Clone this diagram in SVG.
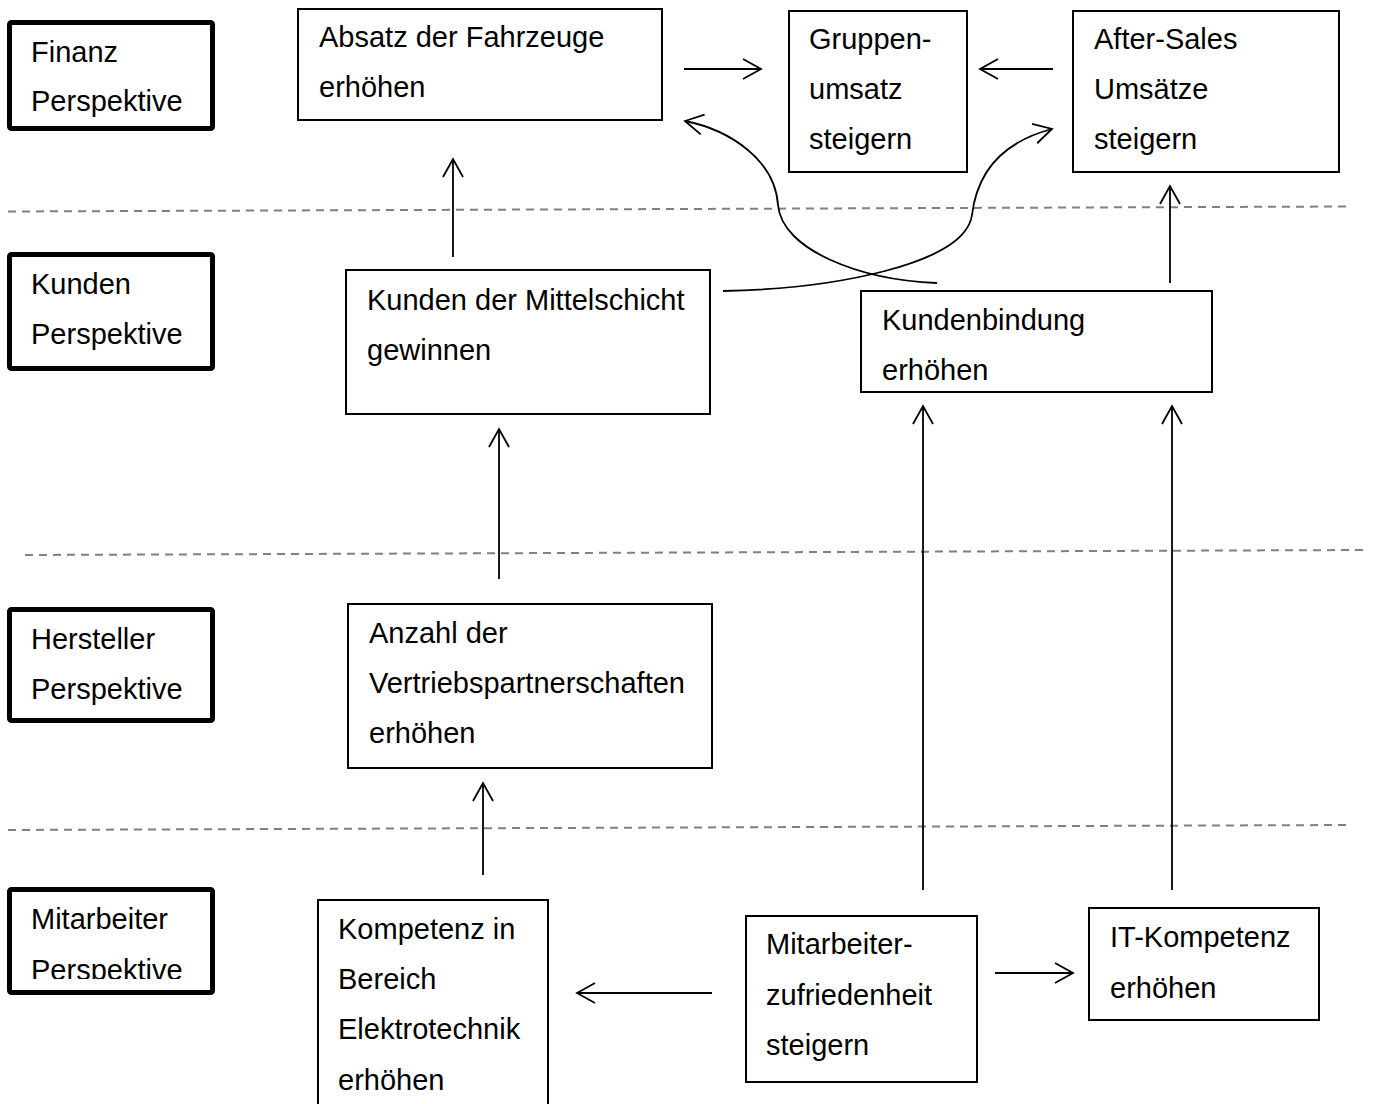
<svg xmlns="http://www.w3.org/2000/svg" width="1374" height="1104" viewBox="0 0 1374 1104">
<style>
  text { font-family: "Liberation Sans", Arial, sans-serif; font-size: 29px; fill: #000; }
  .node { fill: #fff; stroke: #000; stroke-width: 2; }
  .persp { fill: #fff; stroke: #000; stroke-width: 5; }
  .sep { stroke: #808080; stroke-width: 2; stroke-dasharray: 8 6; fill: none; }
  .conn { stroke: #000; stroke-width: 1.8; fill: none; marker-end: url(#arr); }
</style>
<defs>
  <marker id="arr" markerUnits="userSpaceOnUse" viewBox="-20 -12 22 24" markerWidth="22" markerHeight="24" refX="0" refY="0" orient="auto">
    <path d="M-18,-10 L0,0 L-18,10" fill="none" stroke="#000" stroke-width="1.8"/>
  </marker>
  <clipPath id="clipM"><rect x="0" y="880" width="300" height="99"/></clipPath>
</defs>
<rect width="1374" height="1104" fill="#fff"/>

<g id="separators">
  <line class="sep" x1="8" y1="211.5" x2="1348" y2="206.5"/>
  <line class="sep" x1="25" y1="555" x2="1365" y2="550"/>
  <line class="sep" x1="8" y1="830" x2="1348" y2="825"/>
</g>

<g id="persp-finanz">
  <rect class="persp" x="9.5" y="22.5" width="203" height="106" rx="2"/>
  <text x="31" y="62">Finanz</text>
  <text x="31" y="111">Perspektive</text>
</g>
<g id="persp-kunden">
  <rect class="persp" x="9.5" y="254.5" width="203" height="114" rx="2"/>
  <text x="31" y="294">Kunden</text>
  <text x="31" y="344">Perspektive</text>
</g>
<g id="persp-hersteller">
  <rect class="persp" x="9.5" y="609.5" width="203" height="111" rx="2"/>
  <text x="31" y="649">Hersteller</text>
  <text x="31" y="699">Perspektive</text>
</g>
<g id="persp-mitarbeiter">
  <rect class="persp" x="9.5" y="889.5" width="203" height="103" rx="2"/>
  <text x="31" y="929">Mitarbeiter</text>
  <text x="31" y="980" clip-path="url(#clipM)">Perspektive</text>
</g>

<g id="n-absatz">
  <rect class="node" x="298" y="9" width="364" height="111"/>
  <text x="319" y="47">Absatz der Fahrzeuge</text>
  <text x="319" y="97">erhöhen</text>
</g>
<g id="n-gruppen">
  <rect class="node" x="789" y="11" width="178" height="161"/>
  <text x="809" y="49">Gruppen-</text>
  <text x="809" y="99">umsatz</text>
  <text x="809" y="149">steigern</text>
</g>
<g id="n-aftersales">
  <rect class="node" x="1073" y="11" width="266" height="161"/>
  <text x="1094" y="49">After-Sales</text>
  <text x="1094" y="99">Umsätze</text>
  <text x="1094" y="149">steigern</text>
</g>
<g id="n-mittelschicht">
  <rect class="node" x="346" y="270" width="364" height="144"/>
  <text x="367" y="310">Kunden der Mittelschicht</text>
  <text x="367" y="360">gewinnen</text>
</g>
<g id="n-kundenbindung">
  <rect class="node" x="861" y="291" width="351" height="101"/>
  <text x="882" y="330">Kundenbindung</text>
  <text x="882" y="380">erhöhen</text>
</g>
<g id="n-vertrieb">
  <rect class="node" x="348" y="604" width="364" height="164"/>
  <text x="369" y="643">Anzahl der</text>
  <text x="369" y="693">Vertriebspartnerschaften</text>
  <text x="369" y="743">erhöhen</text>
</g>
<g id="n-elektro">
  <rect class="node" x="318" y="900" width="230" height="215"/>
  <text x="338" y="939">Kompetenz in</text>
  <text x="338" y="989">Bereich</text>
  <text x="338" y="1039">Elektrotechnik</text>
  <text x="338" y="1090">erhöhen</text>
</g>
<g id="n-zufriedenheit">
  <rect class="node" x="746" y="916" width="231" height="166"/>
  <text x="766" y="954">Mitarbeiter-</text>
  <text x="766" y="1005">zufriedenheit</text>
  <text x="766" y="1055">steigern</text>
</g>
<g id="n-it">
  <rect class="node" x="1089" y="908" width="230" height="112"/>
  <text x="1110" y="947">IT-Kompetenz</text>
  <text x="1110" y="998">erhöhen</text>
</g>

<g id="connectors">
  <line class="conn" x1="684" y1="69" x2="761" y2="69"/>
  <line class="conn" x1="1053" y1="69" x2="980" y2="69"/>
  <path class="conn" d="M723,291 C830,289 965,265 972,215 C978,165 1010,140 1052,129"/>
  <path class="conn" d="M937,283 C860,280 782,250 778,205 C775,160 730,130 685,121"/>
  <line class="conn" x1="453" y1="257" x2="453" y2="159"/>
  <line class="conn" x1="1170" y1="283" x2="1170" y2="186"/>
  <line class="conn" x1="499" y1="579" x2="499" y2="429"/>
  <line class="conn" x1="483" y1="875" x2="483" y2="783"/>
  <line class="conn" x1="923" y1="890" x2="923" y2="406"/>
  <line class="conn" x1="1172" y1="890" x2="1172" y2="406"/>
  <line class="conn" x1="712" y1="993" x2="577" y2="993"/>
  <line class="conn" x1="995" y1="973" x2="1073" y2="973"/>
</g>
</svg>
